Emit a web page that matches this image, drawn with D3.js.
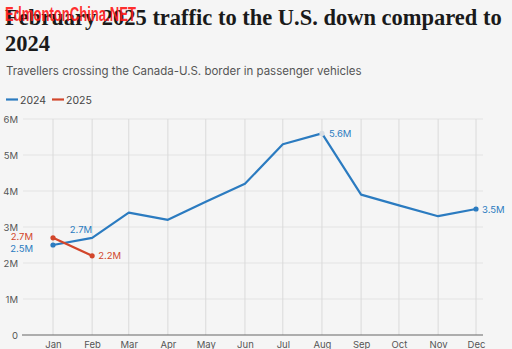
<!DOCTYPE html>
<html><head><meta charset="utf-8">
<script src="https://cdn.jsdelivr.net/npm/d3@7"></script>
<style>
html,body{margin:0;padding:0;background:#f5f5f5;}
svg{display:block;}
</style></head>
<body>
<svg id="c" width="512" height="349"></svg>
<script>
const months = ["Jan","Feb","Mar","Apr","May","Jun","Jul","Aug","Sep","Oct","Nov","Dec"];
const values2024 = [2.5,2.7,3.4,3.2,3.7,4.2,5.3,5.6,3.9,3.6,3.3,3.5];
const values2025 = [2.7,2.2];
const yTicks = [0,1,2,3,4,5,6];
const yTickLabels = ["0","1M","2M","3M","4M","5M","6M"];
const seriesNames = ["2024","2025"];
const colors = ["#2b7bc0","#d2462b"];

const svg = d3.select("#c");
svg.append("rect").attr("width",512).attr("height",349).attr("fill","#f5f5f5");

const dates = months.map((m,i)=>new Date(2024,i,1));
const x = d3.scaleTime().domain([new Date(2024,0,1), new Date(2024,11,1)]).range([53,476]);
const y = d3.scaleLinear().domain([0,6]).range([335,119]);
const left = 23, right = 483;

// title
const title = svg.append("text").attr("font-family","Liberation Serif, DejaVu Serif, serif")
  .attr("font-weight","bold").attr("font-size",24).attr("fill","#1a1a1a");
title.append("tspan").attr("x",5).attr("y",25).text("February 2025 traffic to the U.S. down compared to");
title.append("tspan").attr("x",5).attr("y",51).text("2024");

const sub = svg.append("text").attr("x",6).attr("y",75).attr("font-family","Inter, Roboto, sans-serif")
  .attr("font-size",11.5).attr("fill","#555").text("Travellers crossing the Canada-U.S. border in passenger vehicles");

// legend
const lg = svg.append("g").attr("font-family","Inter, Roboto, sans-serif").attr("font-size",10.5).attr("fill","#444");
[[6,20],[52,66]].forEach((p,i)=>{
  lg.append("line").attr("x1",p[0]).attr("x2",p[0]+12).attr("y1",99.5).attr("y2",99.5).attr("stroke",colors[i]).attr("stroke-width",2.2);
  lg.append("text").attr("x",p[1]).attr("y",103.5).text(seriesNames[i]);
});

// grid
const g = svg.append("g");
g.selectAll(".hg").data(yTicks.slice(1)).join("line")
  .attr("x1",left).attr("x2",right).attr("y1",d=>y(d)).attr("y2",d=>y(d))
  .attr("stroke","#e3e3e3").attr("stroke-width",1);
g.selectAll(".vg").data(dates).join("line")
  .attr("x1",d=>x(d)).attr("x2",d=>x(d)).attr("y1",y(6)).attr("y2",y(0))
  .attr("stroke","#dadada").attr("stroke-width",1);
g.append("line").attr("x1",left-1).attr("x2",right).attr("y1",y(0)).attr("y2",y(0)).attr("stroke","#666").attr("stroke-width",1.2);

// y labels
const yAxis = d3.axisLeft(y).tickValues(yTicks).tickFormat((d,i)=>yTickLabels[i]).tickSize(0).tickPadding(0);
const ya = svg.append("g").attr("transform","translate(18,0)").call(yAxis);
ya.select(".domain").remove();
ya.selectAll("text").attr("font-family","Inter, Roboto, sans-serif").attr("font-size",9.5).attr("fill","#555");

// x labels
const xAxis = d3.axisBottom(x).tickValues(dates).tickFormat((d,i)=>months[i]).tickSize(0).tickPadding(0);
const xa = svg.append("g").attr("transform","translate(0,341)").call(xAxis);
xa.select(".domain").remove();
xa.selectAll("text").attr("font-family","Inter, Roboto, sans-serif").attr("font-size",9.5).attr("fill","#555");

// lines
const line = d3.line().x((d,i)=>x(dates[i])).y(d=>y(d));
svg.append("path").attr("d",line(values2024)).attr("fill","none").attr("stroke",colors[0]).attr("stroke-width",2.2).attr("stroke-linejoin","round");
svg.append("path").attr("d",line(values2025)).attr("fill","none").attr("stroke",colors[1]).attr("stroke-width",2.2).attr("stroke-linejoin","round");

// dots
[0,11].forEach(i=>svg.append("circle").attr("cx",x(dates[i])).attr("cy",y(values2024[i])).attr("r",2.6).attr("fill",colors[0]));
svg.append("circle").attr("cx",x(dates[7])).attr("cy",y(values2024[7])).attr("r",2.6).attr("fill","#d8dde3");
[0,1].forEach(i=>svg.append("circle").attr("cx",x(dates[i])).attr("cy",y(values2025[i])).attr("r",2.6).attr("fill",colors[1]));

// labels
const fmt = v=>v.toFixed(1)+"M";
const lab = svg.append("g").attr("font-family","Inter, Roboto, sans-serif").attr("font-size",9.5);
function L(xp,yp,t,c,anchor){lab.append("text").attr("x",xp).attr("y",yp).attr("fill",c).attr("text-anchor",anchor).text(t);}
L(x(dates[0])-20, y(values2025[0])+2, fmt(values2025[0]), colors[1], "end");
L(x(dates[0])-20, y(values2024[0])+6.5, fmt(values2024[0]), colors[0], "end");
L(x(dates[1]), y(values2024[1])-5, fmt(values2024[1]), colors[0], "end");
L(x(dates[1])+6, y(values2025[1])+3.5, fmt(values2025[1]), colors[1], "start");
L(x(dates[7])+7, y(values2024[7])+3.5, fmt(values2024[7]), colors[0], "start");
L(x(dates[11])+6, y(values2024[11])+3.5, fmt(values2024[11]), colors[0], "start");

// watermark
svg.append("text").attr("x",5).attr("y",20.5).attr("font-family","Liberation Sans Narrow, Liberation Sans, sans-serif")
  .attr("font-weight","bold").attr("font-size",20).attr("fill","#ff1a1a").attr("fill-opacity",0.92)
  .attr("textLength",131).attr("lengthAdjust","spacingAndGlyphs").text("EdmontonChina.NET");

// fit title and subtitle to width
const t1 = title.select("tspan").node();
title.attr("font-size",24*497/t1.getComputedTextLength());
sub.attr("font-size",11.5*356/sub.node().getComputedTextLength());
</script>
</body></html>
